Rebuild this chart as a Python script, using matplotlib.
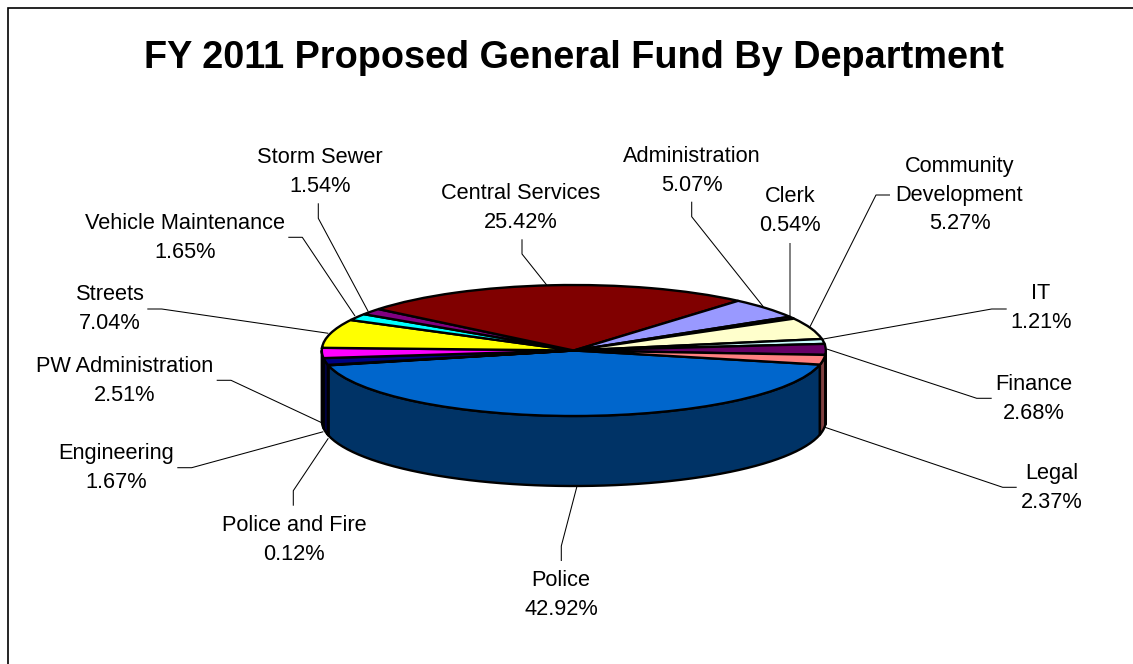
import numpy as np
import matplotlib
matplotlib.use("Agg")
import matplotlib.pyplot as plt
from matplotlib.patches import Polygon

plt.rcParams["font.family"] = ["Liberation Sans", "DejaVu Sans"]

W, H = 1133, 664

# ============================================================
# DATA
# ============================================================

departments = [
    "Police", "Police and Fire", "Engineering", "PW Administration",
    "Streets", "Vehicle Maintenance", "Storm Sewer", "Central Services",
    "Administration", "Clerk", "Community\nDevelopment", "IT",
    "Finance", "Legal",
]
shares = [42.92, 0.12, 1.67, 2.51, 7.04, 1.65, 1.54,
          25.42, 5.07, 0.54, 5.27, 1.21, 2.68, 2.37]
colors = ["#0066CC", "#CCCCFF", "#000080", "#FF00FF", "#FFFF00", "#00FFFF", "#800080",
          "#800000", "#9999FF", "#993366", "#FFFFCC", "#CCFFFF", "#660066", "#FF8080"]

# label centres and leader lines, in pixels from the top left
label_pos = [(561, 595), (294, 540), (116, 468), (125, 381), (110, 309), (185, 238), (320, 172),
             (521, 208), (692, 171), (790, 211), (959.5, 195), (1041, 308), (1034, 399), (1052, 488)]
leaders = [
    [(561.3, 561), (561.3, 546), (577.3, 485)],
    [(293.3, 505.7), (293.3, 490.7), (328.3, 438.3)],
    [(177.3, 467.7), (191.7, 467.7), (323.3, 431.7)],
    [(216.7, 380.3), (231, 380.3), (321.7, 422.7)],
    [(147.3, 309), (161.7, 309), (328.3, 333.3)],
    [(288.3, 237.3), (302.3, 237.3), (355, 316)],
    [(318.3, 203.3), (318.3, 218.3), (368.3, 311.7)],
    [(522, 239.3), (522, 254), (546.7, 285)],
    [(691.7, 201.7), (691.7, 216.7), (763.3, 306.7)],
    [(790, 243.3), (790, 316.7)],
    [(890, 195), (876, 195), (810, 326.7)],
    [(1006.7, 309), (991.7, 309), (823.3, 339)],
    [(991.7, 398.3), (976.7, 398.3), (826.7, 349)],
    [(1016.7, 487.3), (1002.7, 487.3), (825, 427.3)],
]

# pie geometry in pixels
cx, cy = 573.8, 350.5
rx, ry = 252, 65.5
depth = 70
start_angle = -12.4

# ============================================================
# FIGURE
# ============================================================

fig = plt.figure(figsize=(W / 100, H / 100), dpi=100)

# overlay axes working in pixel coordinates
canvas = fig.add_axes([0, 0, 1, 1])
canvas.set_xlim(0, W)
canvas.set_ylim(H, 0)
canvas.axis("off")

canvas.plot([8, 8, W], [H, 7.5, 7.5], color="black", lw=1.2, solid_joinstyle="miter")

canvas.text(574, 58, "FY 2011 Proposed General Fund By Department",
            ha="center", va="center", fontsize=27.3, fontweight="bold", color="black")

# ============================================================
# SIDE WALL, drawn from the slice angles
# ============================================================

# the axes are stretched so the unit circle lands on the ellipse
ax = fig.add_axes([(cx - rx) / W, 1 - (cy + ry + depth) / H,
                   2 * rx / W, (2 * ry + depth) / H], zorder=2)
ax.patch.set_alpha(0)
wall = depth / ry

angles = start_angle - 3.6 * np.cumsum([0] + shares) * 100 / sum(shares)
for i, color in enumerate(colors):
    hi, lo = angles[i], angles[i + 1]
    # only the front half of the rim is visible
    for a, b in [(hi, lo), (hi + 360, lo + 360), (hi - 360, lo - 360)]:
        a, b = min(a, 0), max(b, -180)
        if a <= b:
            continue
        t = np.radians(np.linspace(a, b, 60))
        x, y = np.cos(t), np.sin(t)
        verts = np.vstack([np.c_[x, y], np.c_[x[::-1], y[::-1] - wall]])
        dark = tuple(c / 2 for c in matplotlib.colors.to_rgb(color))
        ax.add_patch(Polygon(verts, facecolor=dark, edgecolor="black", lw=1.7, joinstyle="round"))

# ============================================================
# TOP OF THE PIE
# ============================================================

ax.pie(shares, colors=colors, startangle=start_angle, counterclock=False, radius=1,
       wedgeprops={"edgecolor": "black", "linewidth": 1.7})
ax.set_aspect("auto")
ax.set_xlim(-1, 1)
ax.set_ylim(-1 - wall, 1)
for patch in ax.patches:
    patch.set_clip_on(False)

# ============================================================
# LABELS AND LEADER LINES
# ============================================================

for name, share, pos, pts in zip(departments, shares, label_pos, leaders):
    xs, ys = zip(*pts)
    line_color = "#808080" if name == "Clerk" else "black"
    line_width = 1.4 if name == "Clerk" else 0.75
    canvas.plot(xs, ys, color=line_color, lw=line_width, solid_capstyle="butt")
    canvas.text(pos[0], pos[1], f"{name}\n{share:.2f}%", ha="center", va="center",
                fontsize=15.7, linespacing=1.47, color="black")

fig.savefig("out.png", dpi=100)
plt.close(fig)
